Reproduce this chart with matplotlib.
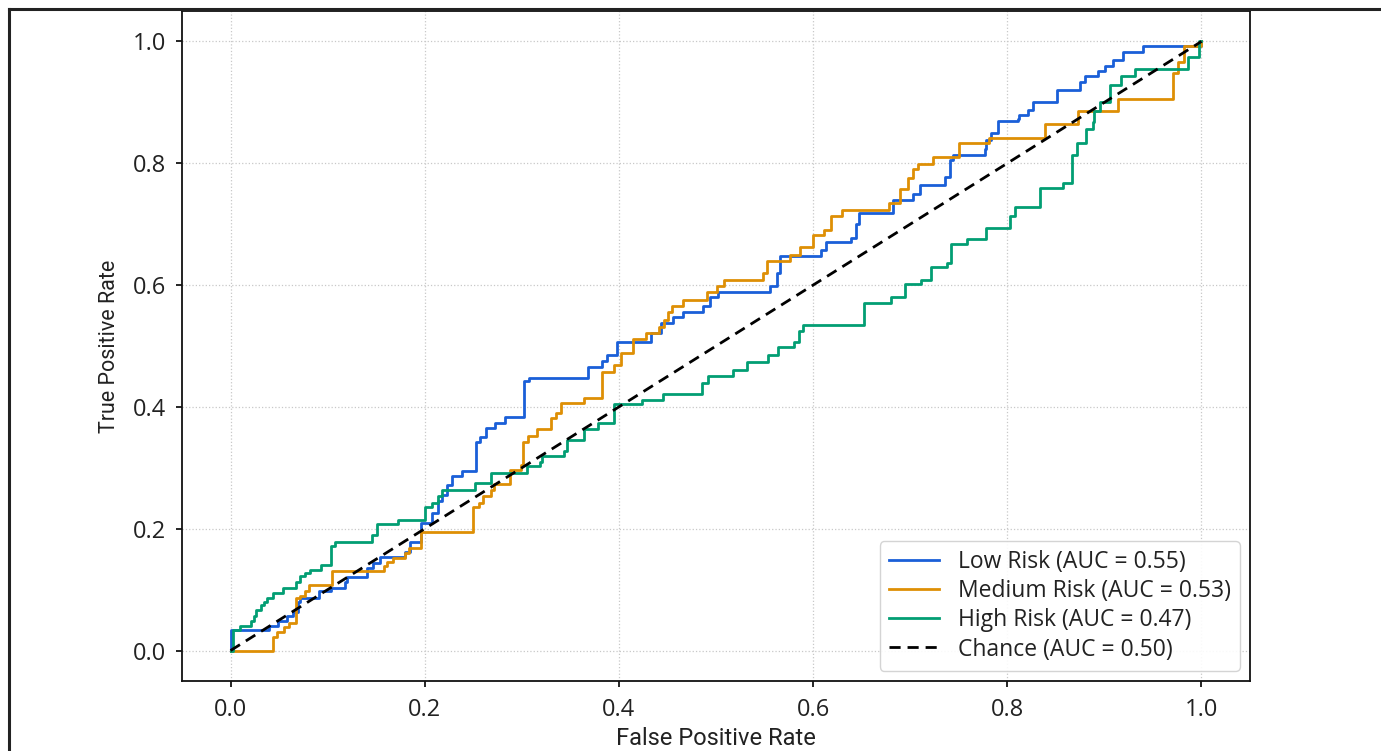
import matplotlib
matplotlib.use("Agg")
import matplotlib.pyplot as plt
from matplotlib.lines import Line2D

# ---------------- data ----------------
low_fpr = [0, 0, 0.040, 0.049, 0.058, 0.064, 0.069, 0.072, 0.091, 0.103, 0.118, 0.120, 0.141, 0.147,
           0.154, 0.180, 0.185, 0.196, 0.208, 0.214, 0.218, 0.223, 0.228, 0.238, 0.253, 0.257, 0.263,
           0.272, 0.283, 0.302, 0.307, 0.368, 0.383, 0.388, 0.398, 0.433, 0.443, 0.456, 0.466, 0.487,
           0.494, 0.502, 0.556, 0.563, 0.566, 0.608, 0.613, 0.639, 0.644, 0.647, 0.682, 0.703, 0.710,
           0.736, 0.741, 0.744, 0.777, 0.778, 0.783, 0.790, 0.811, 0.812, 0.821, 0.826, 0.851, 0.875,
           0.880, 0.893, 0.901, 0.909, 0.919, 0.940, 1.0]
low_tpr = [0, 0.033, 0.041, 0.048, 0.056, 0.064, 0.080, 0.087, 0.097, 0.103, 0.112, 0.120, 0.135, 0.144,
           0.153, 0.161, 0.179, 0.210, 0.226, 0.245, 0.256, 0.272, 0.286, 0.294, 0.343, 0.351, 0.366,
           0.374, 0.384, 0.442, 0.448, 0.466, 0.475, 0.486, 0.506, 0.522, 0.537, 0.547, 0.555, 0.565,
           0.580, 0.588, 0.598, 0.620, 0.647, 0.658, 0.670, 0.678, 0.700, 0.719, 0.740, 0.749, 0.765,
           0.778, 0.806, 0.814, 0.823, 0.839, 0.850, 0.869, 0.872, 0.880, 0.888, 0.900, 0.921, 0.933,
           0.943, 0.951, 0.959, 0.970, 0.982, 0.992, 1.0]

med_fpr = [0, 0.044, 0.048, 0.055, 0.060, 0.067, 0.072, 0.077, 0.081, 0.105, 0.158, 0.161, 0.167, 0.180,
           0.184, 0.196, 0.250, 0.256, 0.260, 0.268, 0.271, 0.288, 0.299, 0.301, 0.306, 0.316, 0.330,
           0.335, 0.340, 0.364, 0.383, 0.395, 0.402, 0.414, 0.428, 0.441, 0.446, 0.451, 0.455, 0.466,
           0.491, 0.501, 0.508, 0.548, 0.553, 0.576, 0.587, 0.600, 0.611, 0.618, 0.630, 0.678, 0.690,
           0.698, 0.703, 0.708, 0.723, 0.750, 0.781, 0.839, 0.873, 0.914, 0.971, 0.976, 0.982, 1.0]
med_tpr = [0, 0.023, 0.030, 0.038, 0.045, 0.087, 0.090, 0.097, 0.108, 0.130, 0.138, 0.146, 0.152, 0.160,
           0.169, 0.194, 0.235, 0.243, 0.253, 0.264, 0.273, 0.297, 0.305, 0.342, 0.352, 0.363, 0.382,
           0.390, 0.407, 0.415, 0.458, 0.469, 0.489, 0.511, 0.522, 0.532, 0.543, 0.555, 0.565, 0.576,
           0.588, 0.598, 0.609, 0.620, 0.639, 0.650, 0.662, 0.683, 0.691, 0.713, 0.724, 0.735, 0.757,
           0.776, 0.790, 0.798, 0.811, 0.834, 0.842, 0.864, 0.885, 0.905, 0.949, 0.967, 0.992, 1.0]

high_fpr = [0, 0.003, 0.010, 0.021, 0.024, 0.026, 0.031, 0.034, 0.038, 0.044, 0.054, 0.067, 0.072, 0.077,
            0.082, 0.093, 0.103, 0.108, 0.146, 0.151, 0.172, 0.200, 0.208, 0.214, 0.218, 0.252, 0.268,
            0.305, 0.319, 0.321, 0.343, 0.347, 0.364, 0.378, 0.395, 0.424, 0.445, 0.486, 0.492, 0.518,
            0.532, 0.554, 0.564, 0.580, 0.585, 0.590, 0.652, 0.680, 0.695, 0.711, 0.721, 0.738, 0.742,
            0.759, 0.778, 0.803, 0.808, 0.834, 0.857, 0.867, 0.872, 0.881, 0.888, 0.889, 0.896, 0.906,
            0.917, 0.932, 0.986, 0.997, 1.0]
high_tpr = [0, 0.034, 0.040, 0.048, 0.056, 0.067, 0.075, 0.080, 0.087, 0.095, 0.103, 0.112, 0.122, 0.128,
            0.133, 0.141, 0.171, 0.179, 0.190, 0.207, 0.215, 0.235, 0.243, 0.253, 0.264, 0.275, 0.292,
            0.303, 0.310, 0.319, 0.327, 0.346, 0.363, 0.374, 0.404, 0.412, 0.422, 0.440, 0.450, 0.461,
            0.473, 0.486, 0.498, 0.506, 0.524, 0.535, 0.571, 0.580, 0.601, 0.609, 0.629, 0.637, 0.667,
            0.675, 0.694, 0.713, 0.729, 0.760, 0.768, 0.814, 0.834, 0.856, 0.867, 0.885, 0.901, 0.929,
            0.943, 0.954, 0.974, 1.0, 1.0]

chance_x = [0, 1]
chance_y = [0, 1]

labels = ["Low Risk (AUC = 0.55)", "Medium Risk (AUC = 0.53)",
          "High Risk (AUC = 0.47)", "Chance (AUC = 0.50)"]
ticks = [0.0, 0.2, 0.4, 0.6, 0.8, 1.0]

# ---------------- plot ----------------
W, H = 1381, 751
fig = plt.figure(figsize=(W / 100, H / 100), dpi=100)
ax = fig.add_axes([182 / W, 1 - 681 / H, (1250 - 182) / W, (681 - 11) / H])

lw = 2.0
ax.step(low_fpr, low_tpr, where="post", color="#1a5fd8", lw=lw, label=labels[0])
ax.step(med_fpr, med_tpr, where="post", color="#de8f05", lw=lw, label=labels[1])
ax.step(high_fpr, high_tpr, where="post", color="#029e73", lw=lw, label=labels[2])
ax.plot(chance_x, chance_y, color="black", lw=2.0, ls=(0, (4, 2.5)), label=labels[3])

ax.set_xlim(-0.05, 1.05)
ax.set_ylim(-0.05, 1.05)
ax.set_xticks(ticks)
ax.set_yticks(ticks)
ax.set_xticklabels([f"{t:.1f}" for t in ticks], fontfamily="Open Sans", fontsize=17, color="#222222")
ax.set_yticklabels([f"{t:.1f}" for t in ticks], fontfamily="Open Sans", fontsize=17, color="#222222")
ax.tick_params(axis="x", length=4.5, width=1.2, pad=8)
ax.tick_params(axis="y", length=4.5, width=1.2, pad=7)
ax.grid(True, ls=":", lw=0.9, color="#c8c8c8")
ax.set_axisbelow(True)
for s in ax.spines.values():
    s.set_linewidth(1.3)
    s.set_color("#111111")

ax.set_xlabel("False Positive Rate", fontfamily="Roboto", fontsize=17, color="#222222", labelpad=3)
ax.set_ylabel("True Positive Rate", fontfamily="Roboto", fontsize=15.5, color="#222222", labelpad=9)

leg = ax.legend(loc="lower right", prop={"family": "Open Sans", "size": 16.5},
                frameon=True, fancybox=True, framealpha=0.9, edgecolor="#d0d0d0",
                handlelength=2.2, handletextpad=0.8, borderaxespad=0.45,
                labelspacing=0.22, borderpad=0.4)
for t in leg.get_texts():
    t.set_color("#222222")

# outer screenshot frame
fig.add_artist(Line2D([8.5 / W, 1.0], [1 - 8.5 / H, 1 - 8.5 / H], transform=fig.transFigure,
                      color="#222222", lw=2.2))
fig.add_artist(Line2D([8.5 / W, 8.5 / W], [0, 1 - 8.5 / H], transform=fig.transFigure,
                      color="#222222", lw=2.2))

fig.savefig("out.png", dpi=100)
